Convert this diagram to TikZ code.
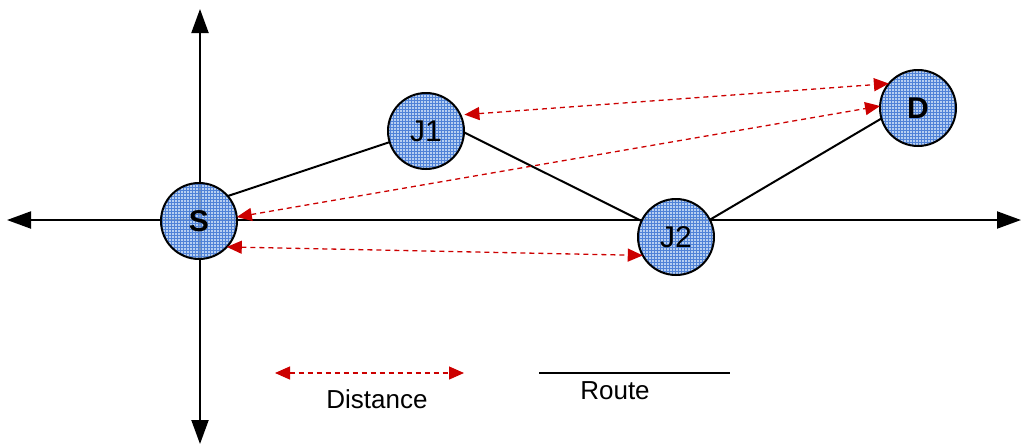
\documentclass[tikz,border=0pt]{standalone}
\usepackage{fontspec}
\setmainfont{Liberation Sans}
\usetikzlibrary{arrows.meta,patterns}
\definecolor{nodeblue}{RGB}{165,195,238}
\definecolor{gridblue}{RGB}{80,130,215}
\definecolor{distred}{RGB}{204,0,0}
\tikzset{
  site/.style={circle, draw=black, line width=2pt, minimum size=76pt, inner sep=0pt, outer sep=0pt,
    preaction={fill=nodeblue, fill opacity=0.8}, pattern=grid, pattern color=gridblue,
    font=\fontsize{30}{36}\selectfont},
  axisline/.style={line width=2pt, -{Triangle[length=24pt,width=17pt]}},
  routeline/.style={line width=2pt, black},
  distline/.style={distred, line width=1.3pt, dash pattern=on 5pt off 4pt,
    {Triangle[length=15pt,width=13pt]}-{Triangle[length=15pt,width=13pt]}},
  legendtext/.style={font=\fontsize{26}{30}\selectfont, inner sep=0pt}
}
\begin{document}
\begin{tikzpicture}[x=1pt,y=-1pt]
\useasboundingbox (0,0) rectangle (1022,445);
% axes
\coordinate (origin) at (200,220);
\coordinate (xl) at (7,220);
\coordinate (xr) at (1021,220);
\coordinate (yt) at (200,9);
\coordinate (yb) at (200,444);
\draw[axisline] (origin) -- (xl);
\draw[axisline] (origin) -- (xr);
\draw[axisline] (origin) -- (yt);
\draw[axisline] (origin) -- (yb);
% nodes
\node[site] (S) at (199,221) {\textbf{S}};
\node[site] (J1) at (426,131) {J1};
\node[site] (J2) at (676,237) {J2};
\node[site] (D) at (918,108) {\textbf{D}};
% routes
\draw[routeline] (S.41) -- (J1.197);
\draw[routeline] (J1.-2) -- (J2.155);
\draw[routeline] (J2.27) -- (D.196);
% distances
\draw[distline, shorten <=4pt] (J1.25) -- (D.140);
\draw[distline] (S.6) -- (D.177);
\draw[distline] (S.-43) -- (J2.209);
% legend
\coordinate (dl) at (275,373);
\coordinate (dr) at (464,373);
\draw[distline] (dl) -- (dr);
\node[legendtext] (dist) at (377,399) {Distance};
\coordinate (rl) at (539,373);
\coordinate (rr) at (730,373);
\draw[routeline] (rl) -- (rr);
\node[legendtext] (rt) at (615,391) {Route};
\end{tikzpicture}
\end{document}
